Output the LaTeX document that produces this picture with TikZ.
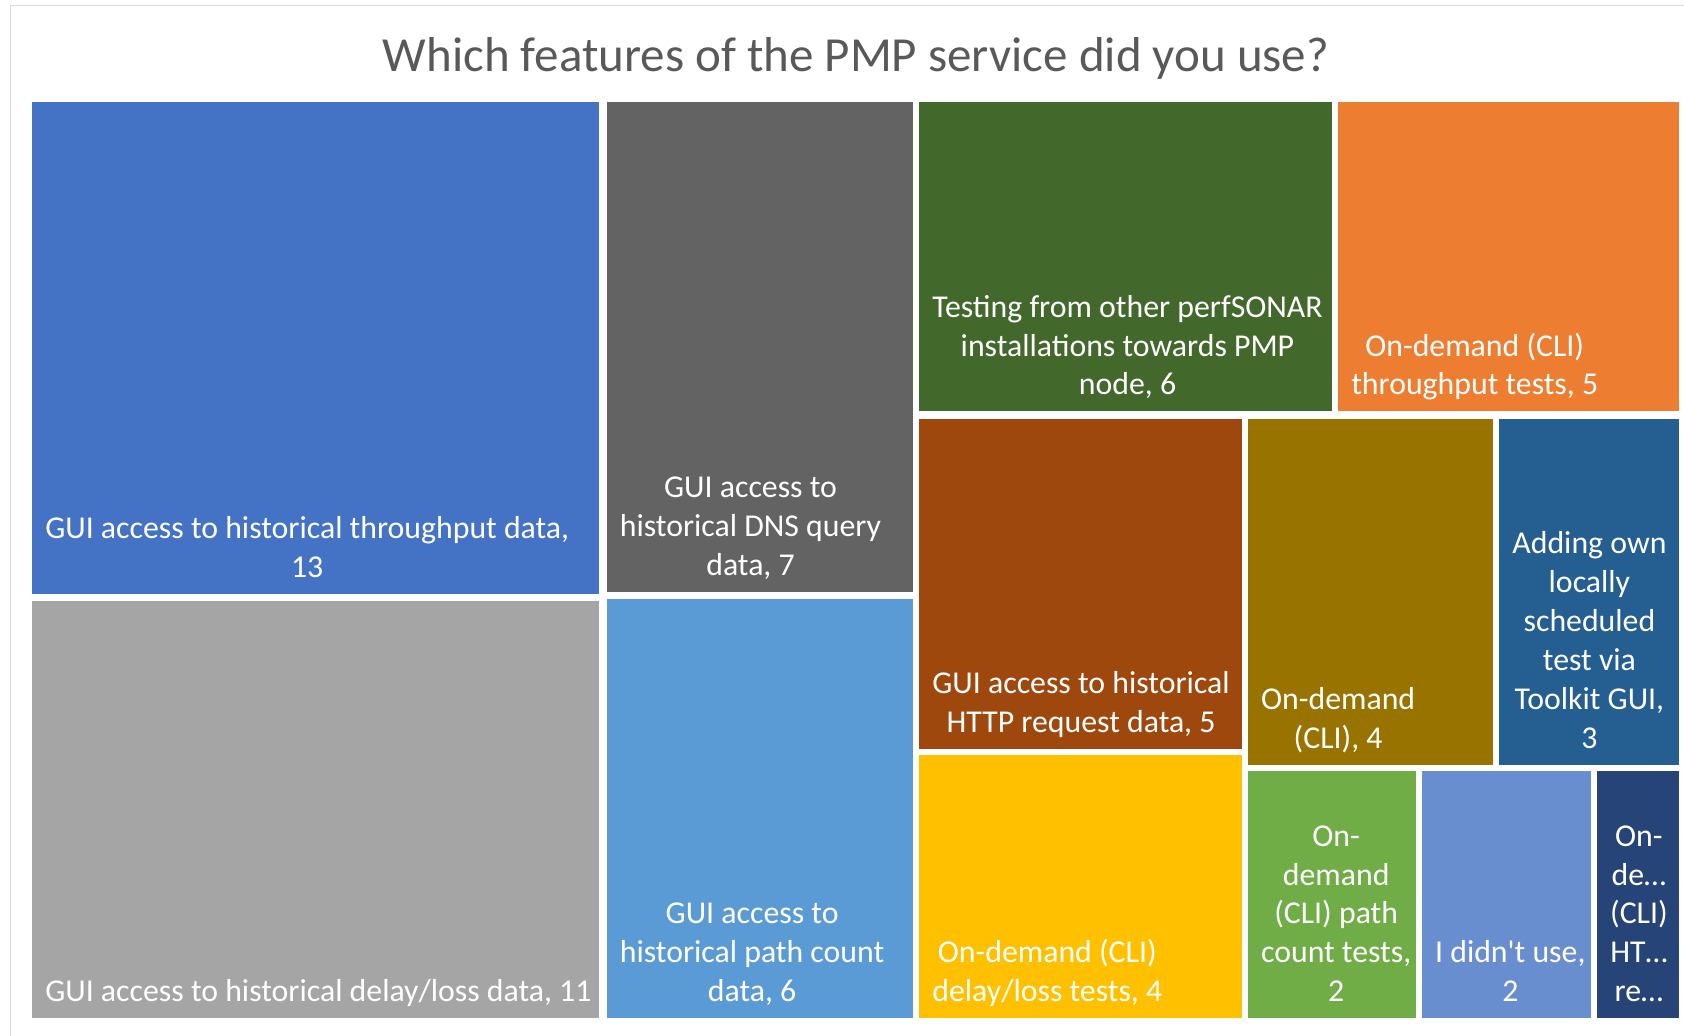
\documentclass[tikz,border=0pt]{standalone}
\usepackage{fontspec}
\setmainfont{Carlito}[Ligatures=TeXOff]
\definecolor{cA}{HTML}{4472C4}
\definecolor{cB}{HTML}{A5A5A5}
\definecolor{cC}{HTML}{636363}
\definecolor{cD}{HTML}{5B9BD5}
\definecolor{cE}{HTML}{43682B}
\definecolor{cF}{HTML}{ED7D31}
\definecolor{cG}{HTML}{9E480E}
\definecolor{cH}{HTML}{FFC000}
\definecolor{cI}{HTML}{997300}
\definecolor{cJ}{HTML}{255E91}
\definecolor{cK}{HTML}{70AD47}
\definecolor{cL}{HTML}{698ED0}
\definecolor{cM}{HTML}{264478}
\definecolor{titlegray}{HTML}{595959}
\definecolor{framegray}{HTML}{D9D9D9}
\newcommand\tmbox[7]{%
  \fill[#2] (#3,#4) rectangle (#5,#6);
  \node[lbl] (#1) at ({#3+12.9},{#6-4.5}) {#7};
}
\begin{document}
\begin{tikzpicture}[x=1pt,y=-1pt,
  lbl/.style={anchor=south west, inner sep=0pt, align=center, text=white,
    font=\fontsize{31.8}{38.9}\selectfont, execute at end node={\strut}},
  ttl/.style={anchor=base, inner sep=0pt, text=titlegray,
    font=\fontsize{49}{59}\selectfont}]
\useasboundingbox (0,0) rectangle (1684,1036);
\fill[white] (0,0) rectangle (1684,1036);
\begin{scope}
\clip (0,0) rectangle (1684,1036);
\draw[framegray, line width=1.5pt] (10.7,5.4) rectangle (1720,1060);
\end{scope}
\node[ttl] (title) at (856,71) {Which features of the PMP service did you use?};
\tmbox{thr}{cA}{32.2}{102}{599.3}{593.9}{GUI access to historical throughput data,\\13}
\tmbox{dly}{cB}{32.2}{601.4}{599.3}{1018.1}{GUI access to historical delay/loss data, 11}
\tmbox{dns}{cC}{606.8}{102}{912.9}{591.8}{GUI access to\\historical DNS query\\data, 7}
\tmbox{pth}{cD}{606.8}{599.3}{912.9}{1018.1}{GUI access to\\historical path count\\data, 6}
\tmbox{tst}{cE}{919.3}{102}{1331.7}{411.3}{Testing from other perfSONAR\\installations towards PMP\\node, 6}
\tmbox{odt}{cF}{1338.2}{102}{1678.6}{411.3}{On-demand (CLI)\\throughput tests, 5}
\tmbox{htp}{cG}{919.3}{418.9}{1241.5}{748.6}{GUI access to historical\\HTTP request data, 5}
\tmbox{odl}{cH}{919.3}{755}{1241.5}{1018.1}{On-demand (CLI)\\delay/loss tests, 4}
\tmbox{odc}{cI}{1248}{418.9}{1492.8}{764.7}{On-demand\\(CLI), 4}
\tmbox{own}{cJ}{1499.3}{418.9}{1678.6}{764.7}{Adding own\\locally\\scheduled\\test via\\Toolkit GUI,\\3}
\tmbox{odp}{cK}{1248}{771.1}{1415.5}{1018.1}{On-\\demand\\(CLI) path\\count tests,\\2}
\tmbox{dnu}{cL}{1422}{771.1}{1590.6}{1018.1}{I didn't use,\\2}
\tmbox{odh}{cM}{1597}{771.1}{1678.6}{1018.1}{On-\\de…\\(CLI)\\HT…\\re…}
\end{tikzpicture}
\end{document}
